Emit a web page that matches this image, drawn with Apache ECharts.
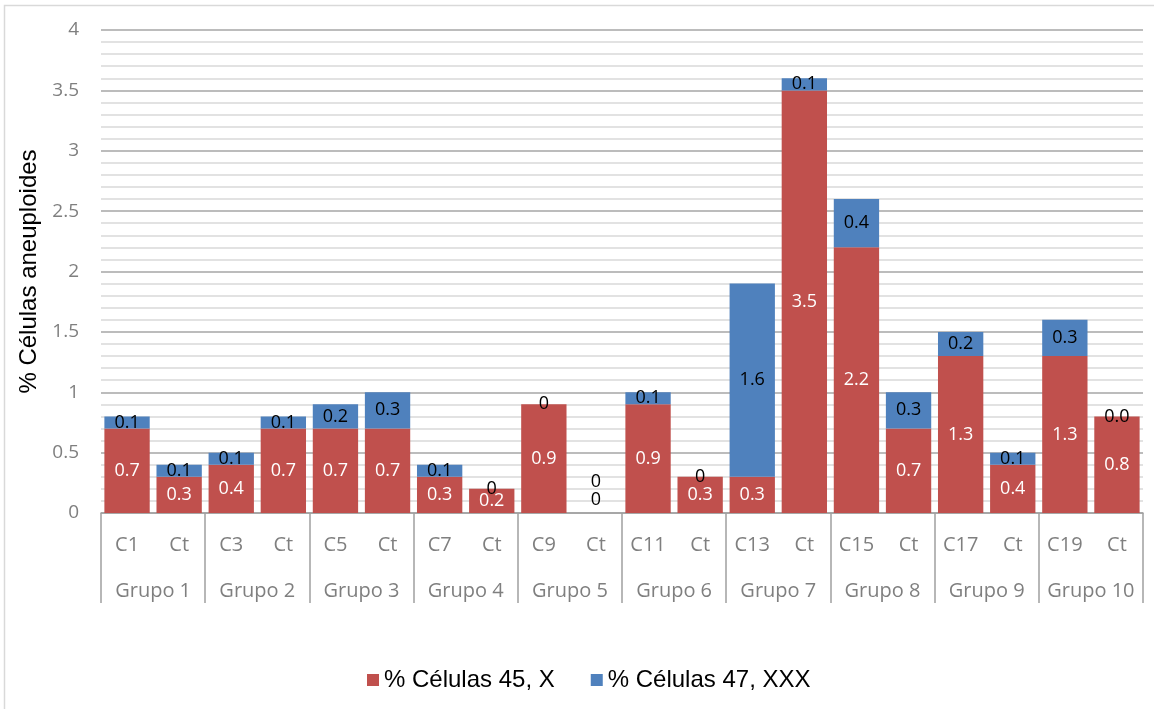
<!DOCTYPE html>
<html>
<head>
<meta charset="utf-8">
<script src="https://cdn.jsdelivr.net/npm/echarts@6/dist/echarts.min.js"></script>
<style>
  html, body { margin: 0; padding: 0; background: #fff; }
  #chart { width: 1154px; height: 709px; }
</style>
</head>
<body>
<div id="chart"></div>
<script>
// Sample categories (lower axis row) and their groups (second row)
const categories = ['C1','Ct','C3','Ct','C5','Ct','C7','Ct','C9','Ct',
                    'C11','Ct','C13','Ct','C15','Ct','C17','Ct','C19','Ct'];
const groups = ['Grupo 1','Grupo 2','Grupo 3','Grupo 4','Grupo 5',
                'Grupo 6','Grupo 7','Grupo 8','Grupo 9','Grupo 10'];

// % of cells 45,X
const cells45X = [0.7, 0.3, 0.4, 0.7, 0.7, 0.7, 0.3, 0.2, 0.9, 0,
                  0.9, 0.3, 0.3, 3.5, 2.2, 0.7, 1.3, 0.4, 1.3, 0.8];
// % of cells 47,XXX
const cells47XXX = [0.1, 0.1, 0.1, 0.1, 0.2, 0.3, 0.1, 0, 0, 0,
                    0.1, 0, 1.6, 0.1, 0.4, 0.3, 0.2, 0.1, 0.3, 0];

// Label texts that differ from the plain value
const labelText47XXX = { 19: '0.0' };

const yTicks = { min: 0, max: 4, step: 0.5 };

const RED = '#C0504D';
const BLUE = '#4F81BD';
const NUM_FONT = 'Open Sans';
const TXT_FONT = 'Liberation Sans';

// Both segments of an empty bar sit on the baseline; lift their labels apart
function redItem(v, i) {
  if (v === 0 && cells47XXX[i] === 0) {
    return { value: v, label: { color: '#000', offset: [0, -13] } };
  }
  return v;
}
function blueItem(v, i) {
  const item = { value: v, label: {} };
  if (labelText47XXX[i] !== undefined) item.label.formatter = labelText47XXX[i];
  if (v === 0 && cells45X[i] === 0) item.label.offset = [0, -31];
  return item;
}

const chart = echarts.init(document.getElementById('chart'), null, { renderer: 'canvas' });

chart.setOption({
  animation: false,
  backgroundColor: '#fff',
  graphic: [{
    type: 'rect',
    shape: { x: 4.5, y: 5.5, width: 1200, height: 760 },
    style: { fill: 'none', stroke: '#d9d9d9', lineWidth: 1.5 },
    silent: true, z: -10
  }],
  grid: { left: 101, right: 11, top: 30, bottom: 196, outerBoundsMode: 'none', containLabel: false },
  legend: {
    left: 362, top: 663,
    itemWidth: 12, itemHeight: 12, itemGap: 36,
    icon: 'rect',
    textStyle: { fontFamily: TXT_FONT, fontSize: 24, color: '#000' },
    data: ['% Células 45, X', '% Células 47, XXX']
  },
  xAxis: [{
    type: 'category',
    data: categories,
    position: 'bottom',
    axisLine: { show: true, lineStyle: { color: '#a0a0a0', width: 1.5 } },
    axisTick: { show: false },
    axisLabel: { interval: 0, color: '#7f7f7f', fontFamily: NUM_FONT, fontSize: 20, margin: 22 }
  }, {
    type: 'category',
    data: groups,
    position: 'bottom',
    axisLine: { show: false },
    axisTick: { show: true, length: 90, lineStyle: { color: '#a0a0a0', width: 1.5 } },
    axisLabel: { interval: 0, color: '#7f7f7f', fontFamily: NUM_FONT, fontSize: 20, margin: 68 },
    splitLine: { show: false }
  }],
  yAxis: {
    type: 'value',
    min: yTicks.min, max: yTicks.max, interval: yTicks.step,
    name: '% Células aneuploides',
    nameLocation: 'middle',
    nameGap: 60,
    nameTextStyle: { fontFamily: TXT_FONT, fontSize: 24, color: '#000' },
    axisLine: { show: false },
    axisTick: { show: false },
    axisLabel: { color: '#7f7f7f', fontFamily: NUM_FONT, fontSize: 19, margin: 22 },
    splitLine: { lineStyle: { color: '#a6a6a6', width: 1.5 } },
    minorTick: { show: false, splitNumber: 5 },
    minorSplitLine: { show: true, lineStyle: { color: '#d9d9d9', width: 1.5 } }
  },
  series: [{
    name: '% Células 45, X',
    type: 'bar',
    stack: 'total',
    barCategoryGap: '13%',
    itemStyle: { color: RED },
    label: {
      show: true, position: 'inside', color: '#fff',
      fontFamily: NUM_FONT, fontSize: 18,
      formatter: p => String(p.value)
    },
    data: cells45X.map(redItem)
  }, {
    name: '% Células 47, XXX',
    type: 'bar',
    stack: 'total',
    barCategoryGap: '13%',
    itemStyle: { color: BLUE },
    label: {
      show: true, position: 'inside', color: '#000',
      fontFamily: NUM_FONT, fontSize: 18,
      formatter: p => String(p.value)
    },
    data: cells47XXX.map(blueItem)
  }]
});
</script>
</body>
</html>
